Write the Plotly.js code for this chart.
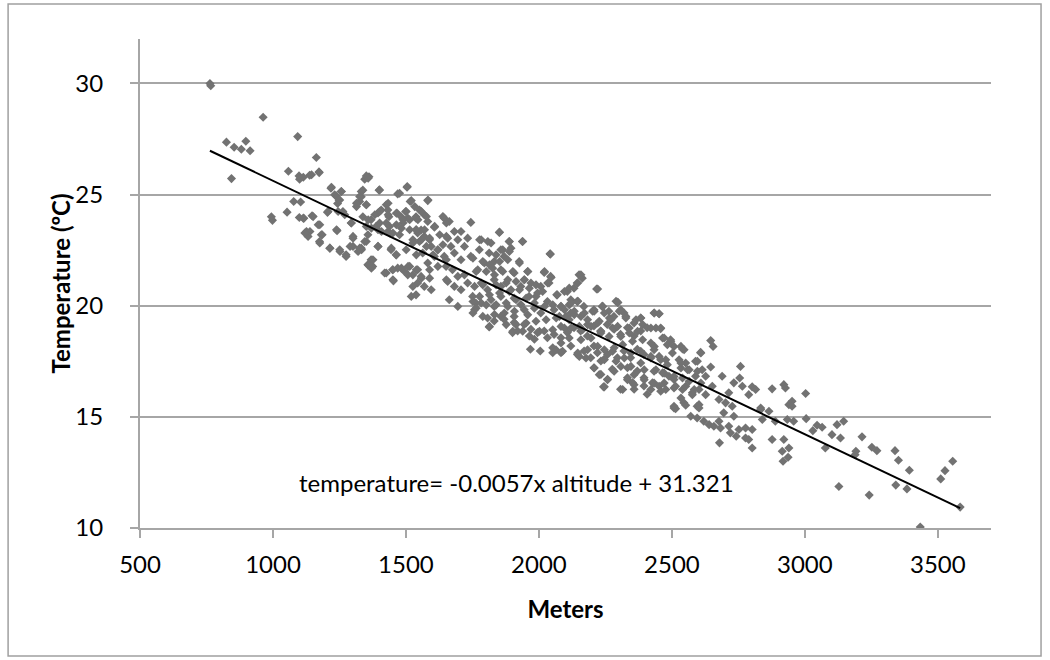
<!DOCTYPE html>
<html>
<head>
<meta charset="utf-8">
<script src="https://cdn.plot.ly/plotly-3.0.1.min.js"></script>
<style>html,body{margin:0;padding:0;background:#fff}#chart{width:1050px;height:660px}</style>
</head>
<body>
<div id="chart"></div>
<script>
// altitude (m) and temperature (ºC)
const altitude = [
 763,766,963,825,854,881,898,914,844,1093,1163,1058,1098,1100,1138,1173,994,998,1053,1078,1104,1099,1116,1147,1126,1132,1170,1185,1175,1205,1214,1218,1238,1257,1248,1243,1241,1252,1275,1263,1294,1301,1290,1320,1332,1314,1326,1332,1338,1345,1361,1351,1338,1351,1357,1351,1369,1399,1395,1407,1388,1395,1395,1426,1432,1436,1438,1432,1451,1444,1463,1469,1466,1482,1489,1499,1507,1514,1504,1516,1538,1538,1526,
 1275,1369,1357,1375,1426,1450,1469,1495,1514,1453,1507,1526,1520,
 1582,1551,1538,1569,1582,1607,1557,1544,1569,1589,1551,1595,1620,1563,1607,1582,1544,1557,1589,1544,1569,1595,1538,
 1644,1663,1744,1682,1707,1657,1695,1732,1669,1720,1644,1682,1707,1744,1651,1675,1695,1720,1657,1682,1707,1732,1663,1695,1751,1763,
 1851,1783,1820,1776,1813,1857,1888,1938,1895,1869,1926,1832,1795,1770,1826,1857,1907,1958,1945,1883,1832,1783,1807,1857,1895,1932,1970,2007,2042,2020,2044,2038,2069,1995,1963,1907,1857,1820,1783,1758,1832,1883,1932,1983,2032,2083,2107,2132,2151,2163,2144,2120,2144,2169,2217,2207,2238,2263,2297,2320,2282,2383,2120,2057,2007,1958,1907,1857,1807,
 1852,1777,1808,1889,1939,1864,1889,1839,1752,1789,1814,1852,1883,1927,2043,1764,1802,1833,1864,1902,1958,2021,1945,1914,1877,1839,1789,1758,2046,2033,1989,1964,1927,1889,1852,1814,1777,1752,2158,2146,2114,2096,2067,2014,1989,1952,1914,1877,1839,1802,1764,2221,2146,2114,2083,2052,2021,1983,1945,1908,1870,1833,1789,1752,2240,2290,2202,2171,2133,2102,2065,2027,1989,1952,1914,1877,1814,2302,2327,2365,2390,2265,2227,2183,2152,2096,2052,2002,1939,1902,2340,2277,2233,
 1813,1832,1869,1907,1901,1920,1945,1970,1964,1995,1983,2020,2032,2057,2083,2107,2132,2157,2182,2207,2232,2257,2283,2307,2333,2358,2383,2407,
 1968,2005,2052,2083,2052,2120,2145,2170,2195,2207,2220,2233,2258,2283,2295,2320,2345,2370,2395,
 2207,2245,2276,2258,2233,2243,2307,2333,2352,2370,2395,2358,2395,2407,2333,
 2434,2452,2440,2458,2465,2495,2483,2508,2540,2434,2421,2452,2477,2502,2527,2552,2534,2565,2589,2608,2646,2655,2646,2614,2627,2589,2565,2540,2508,2489,2465,2440,2427,2452,2477,2514,2540,2577,2602,2627,2652,2677,2689,2714,2733,2758,2755,2765,2789,2802,2815,2877,2921,2927,3003,2952,2940,2834,2545,2508,2595,2702,2727,
 2514,2552,2571,2595,2602,2620,2640,2658,2677,2683,2695,2714,2720,2733,2742,2752,2777,2777,2789,2802,2802,2679,2834,2840,2865,2877,2889,2915,2921,2934,2940,2937,2918,2952,2958,3005,3030,3046,3065,3077,3102,3121,3134,3146,3128,3192,3189,3215,3252,3271,3242,
 3339,3352,3393,3342,3384,3511,3527,3556,3584,3434,
 2121,2146,2096,2133,2077,2114,2158,2183,2083,2121,2164,2196,2221,2246,2208,2239,2296,2308,2271,2296,2327,2358,2383,2433,2452,2421,2458,2371,2340,2308,2264,2233,2196,2158,2114,2083,2064,2089,2146,2183,2221,2246,2277,2315,2352,2390,2421,2471,2496,2534,2546,2609,2596,2433,2383,2346,2321,2290,2246,2208,2177,2152,2308,2346,2383,2421,2458,2483,2534,2559,2596,2508,2471,2433,2396,2358,2333,2283,2258,2227,2246,2315,2358,2396,2433,2471,2508,2552,2584,2609,2421,2458,2534,2508,2577,2602,
 1114,1145,1174,1351,1358,1220,1257,1232,1251,1332,1326,1314,1351,1401,1476,1505,1520,1583,1433,1401,1383,1433,1464,1501,1533,1558,1577,1639,1652,1207,1245,1270,1114,1151,1176,1139,1120,1182,1176,1239,1295,1301,1358,1370,1401,1426,1464,1489,1514,1545,1483,1539,1570,1608,1627,1589,1558,1526,1476,1439,1408,1345,1333,1301,1326,1251,1214,1395,1445,1464,1501,1539,1577,1620,1652,1652,1602,1639,1376,1358,1370,1420,1451,1451,1483,1508,1539,1558,1589,1620,1652,1526
];
const temperature = [
 30.0,29.9,28.48,27.36,27.13,27.04,27.4,26.97,25.72,27.61,26.67,26.05,25.84,25.69,25.87,26.02,24.0,23.84,24.21,24.69,24.67,23.97,23.93,24.05,23.34,23.12,23.64,23.19,22.89,24.2,22.59,25.29,24.94,25.14,24.76,24.6,23.37,22.44,22.29,24.24,23.72,23.04,22.67,22.44,22.59,24.46,24.69,24.9,25.2,25.69,25.8,24.54,24.0,23.57,23.19,22.89,23.87,25.2,24.17,24.31,23.57,23.42,22.67,24.54,24.31,24.0,23.57,23.34,23.27,22.52,22.29,25.03,24.17,24.0,23.72,24.24,23.94,23.42,25.33,24.69,24.0,23.42,22.97,
 22.22,22.07,21.84,21.77,21.47,21.62,21.69,21.54,21.77,21.12,21.39,20.87,20.42,
 24.73,24.31,23.94,24.09,23.79,23.53,23.41,23.27,23.12,22.97,22.89,22.67,22.52,22.37,22.22,21.92,21.62,21.32,21.24,21.02,20.87,20.72,20.49,
 23.94,23.79,23.75,23.34,23.34,23.04,22.97,23.04,22.67,22.67,22.22,22.37,22.07,22.22,21.77,21.62,21.32,21.39,21.09,20.87,20.72,21.02,20.27,19.97,20.42,20.12,
 23.30,22.97,22.82,22.52,22.37,22.52,22.89,22.89,22.59,22.22,21.99,21.99,21.92,21.62,21.69,21.62,21.47,21.54,21.17,21.17,21.17,21.02,20.72,20.87,20.72,20.87,21.02,20.87,22.34,21.50,21.32,21.02,20.49,20.57,20.42,20.34,20.42,20.27,20.12,19.82,19.97,19.97,20.05,20.12,20.19,19.97,20.64,20.79,21.39,21.24,21.02,20.27,20.19,19.97,20.75,19.82,19.97,19.75,20.15,19.67,19.52,19.45,19.67,19.82,19.67,19.59,19.52,19.52,19.45,
 23.31,22.97,22.89,22.89,22.89,22.52,22.44,22.29,22.14,21.99,21.84,21.99,22.07,21.92,22.32,21.54,21.54,21.39,21.54,21.54,21.54,21.54,21.17,21.09,21.02,20.94,20.94,20.87,21.27,21.02,20.94,20.79,20.72,20.64,20.57,20.49,20.42,20.19,21.39,21.02,20.79,20.64,20.49,20.64,20.42,20.34,20.27,20.12,20.04,20.04,19.89,20.75,20.20,20.04,19.97,20.04,19.97,19.89,19.82,19.75,19.67,19.60,19.52,19.67,19.97,20.20,19.75,19.67,19.60,19.52,19.45,19.37,19.30,19.22,19.15,19.15,19.07,19.75,19.52,19.37,19.15,19.45,19.30,19.15,19.07,19.00,18.92,18.85,18.85,18.85,19.00,19.00,18.85,
 19.04,19.31,19.39,19.24,18.79,18.86,19.16,18.94,18.64,18.79,18.49,18.86,18.56,18.71,18.56,18.79,19.01,18.86,18.64,19.09,18.86,19.16,18.94,18.71,19.01,18.64,18.86,19.01,
 18.04,17.96,17.89,17.89,18.11,18.19,17.81,17.96,17.66,18.19,17.89,17.51,17.81,18.11,17.66,17.96,17.66,18.04,17.81,
 17.21,17.59,17.14,16.69,16.91,16.35,16.24,16.76,16.54,17.06,16.76,16.24,16.39,16.02,17.21,
 19.67,19.64,19.00,18.97,18.55,18.47,18.25,18.17,18.05,18.17,17.72,17.72,17.57,17.87,17.57,17.42,17.20,17.12,17.50,17.90,18.43,18.17,17.24,17.12,16.83,16.83,16.60,16.75,16.68,16.83,16.98,17.12,16.53,16.38,16.23,16.38,16.23,16.08,16.23,16.00,16.38,15.78,16.83,16.08,16.53,17.27,16.75,16.38,16.00,16.35,16.23,16.26,16.45,16.30,16.05,15.70,15.55,15.40,15.63,15.40,15.48,15.63,15.48,
 15.37,15.52,15.03,14.95,15.40,14.80,14.65,14.58,14.80,14.50,15.18,14.58,14.28,15.03,14.13,14.43,14.50,14.05,13.98,13.60,14.43,13.83,15.33,14.88,15.25,13.98,14.80,13.45,13.98,14.88,13.60,13.18,13.00,15.48,14.80,14.92,14.38,14.62,14.53,13.60,14.20,14.65,14.05,14.80,11.87,13.45,13.30,14.10,13.63,13.48,11.48,
 13.48,13.05,12.60,11.93,11.76,12.21,12.58,13.00,10.94,10.04,
 20.12,20.20,19.82,19.75,19.52,19.37,19.52,19.37,19.07,19.00,18.92,19.07,19.22,19.67,19.75,19.97,20.15,19.82,19.37,19.07,19.45,19.22,19.45,19.67,19.64,19.00,19.00,18.85,18.77,18.62,18.62,18.77,18.55,18.47,18.55,18.32,18.02,17.95,17.87,18.02,18.17,18.02,17.95,18.25,18.40,18.47,18.32,18.55,18.40,18.17,18.02,17.87,17.50,18.02,17.95,17.87,17.65,17.50,17.57,17.20,17.65,17.72,17.27,17.27,17.42,17.65,17.57,17.35,17.42,17.12,17.05,16.82,16.97,17.05,17.12,16.90,16.67,17.05,16.67,16.90,16.35,16.23,16.45,16.67,16.52,16.52,16.30,16.38,16.23,16.52,16.23,16.15,15.85,15.48,16.00,15.55,
 25.78,25.89,25.99,25.84,25.74,25.33,25.14,24.99,24.76,25.14,24.91,24.61,24.54,25.21,25.06,25.36,24.73,24.76,24.61,24.24,24.09,24.09,24.16,24.24,24.46,24.24,24.01,24.01,23.72,24.24,24.24,24.09,23.94,24.01,23.64,23.34,23.27,23.19,22.82,23.42,23.72,23.12,23.87,23.49,23.72,23.72,23.64,23.87,23.87,23.87,23.49,23.42,23.42,23.57,23.19,23.04,22.97,22.82,23.19,23.27,23.34,22.89,22.52,22.67,22.59,22.52,22.59,22.67,22.59,22.29,22.52,22.29,22.67,22.52,22.07,23.12,22.29,22.74,22.07,21.84,21.69,21.47,21.17,21.62,21.69,21.77,21.62,21.24,21.62,21.77,21.17,21.39
];
// trendline reported on the chart
const slope = -0.0057, intercept = 31.321;
const equationText = 'temperature= -0.0057x altitude + 31.321';
const xTitle = 'Meters';
const yTitle = 'Temperature (ºC)';
const xTicks = [500,1000,1500,2000,2500,3000,3500];
const yTicks = [10,15,20,25,30];

const xMin = Math.min(...altitude), xMax = Math.max(...altitude);
const font = 'Lato, "Liberation Sans", sans-serif';

const traces = [
 {type:'scatter', mode:'markers', x:altitude, y:temperature,
  marker:{symbol:'diamond', size:7, color:'#727272', line:{width:0}}, hoverinfo:'x+y'},
 {type:'scatter', mode:'lines', x:[xMin,xMax], y:[intercept+slope*xMin, intercept+slope*xMax],
  line:{color:'#000', width:2}, hoverinfo:'skip'}
];

const layout = {
 width:1050, height:660, showlegend:false,
 paper_bgcolor:'#fff', plot_bgcolor:'#fff',
 margin:{l:140, r:59, t:39, b:132},
 font:{family:font, size:24, color:'#000'},
 xaxis:{range:[500,3700], tickvals:xTicks, ticktext:xTicks.map(String), showgrid:false, zeroline:false,
  showline:true, linecolor:'#a6a6a6', linewidth:2, ticks:'outside', ticklen:8, tickcolor:'#a6a6a6', tickwidth:2,
  ticklabelstandoff:6, tickfont:{family:font, size:24},
  title:{text:'<b>' + xTitle + '</b>', font:{family:font, size:24}, standoff:24}},
 yaxis:{range:[10,32], tickvals:yTicks, ticktext:yTicks.map(String), showgrid:true, gridcolor:'#a6a6a6', gridwidth:2, zeroline:false,
  showline:true, linecolor:'#a6a6a6', linewidth:2, ticks:'outside', ticklen:8, tickcolor:'#a6a6a6', tickwidth:2,
  ticklabelstandoff:22, tickfont:{family:font, size:24}},
 annotations:[
  {x:1917, y:12.04, xref:'x', yref:'y', text:equationText, showarrow:false,
   font:{family:font, size:24, color:'#000'}},
  {x:-0.094, y:0.5, xref:'paper', yref:'paper', xanchor:'center', yanchor:'middle', textangle:-90,
   text:'<b>' + yTitle + '</b>', showarrow:false, font:{family:font, size:24, color:'#000'}}
 ],
 shapes:[{type:'rect', xref:'paper', yref:'paper', x0:-0.155, x1:1.0588, y0:-0.2618, y1:1.0716,
  line:{color:'#a0a0a0', width:1.5}, fillcolor:'rgba(0,0,0,0)', layer:'below'}]
};

Plotly.newPlot('chart', traces, layout, {displayModeBar:false, staticPlot:true});
</script>
</body>
</html>
